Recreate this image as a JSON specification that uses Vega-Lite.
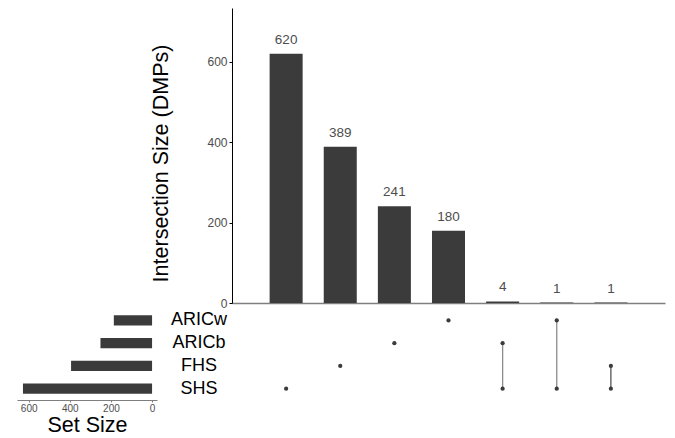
{
  "$schema": "https://vega.github.io/schema/vega-lite/v6.json",
  "padding": {"left": 17, "top": 7, "right": 5, "bottom": 5},
  "bounds": "flush",
  "align": "each",
  "columns": 3,
  "spacing": {"row": 6, "column": 0},
  "config": {"font": "Liberation Sans", "view": {"stroke": null}},
  "datasets": {
    "intersections": [
      {"id": 1, "size": 620},
      {"id": 2, "size": 389},
      {"id": 3, "size": 241},
      {"id": 4, "size": 180},
      {"id": 5, "size": 4},
      {"id": 6, "size": 1},
      {"id": 7, "size": 1}
    ],
    "membership": [
      {"id": 1, "set": "SHS"},
      {"id": 2, "set": "FHS"},
      {"id": 3, "set": "ARICb"},
      {"id": 4, "set": "ARICw"},
      {"id": 5, "set": "ARICb"},
      {"id": 5, "set": "SHS"},
      {"id": 6, "set": "ARICw"},
      {"id": 6, "set": "SHS"},
      {"id": 7, "set": "FHS"},
      {"id": 7, "set": "SHS"}
    ],
    "sets": [
      {"set": "ARICw", "size": 186},
      {"set": "ARICb", "size": 251},
      {"set": "FHS", "size": 394},
      {"set": "SHS", "size": 628}
    ]
  },
  "concat": [
    {
      "width": 140, "height": 10,
      "data": {"values": [{}]},
      "mark": "text",
      "encoding": {"text": {"value": ""}}
    },
    {
      "width": 75, "height": 10,
      "data": {"values": [{}]},
      "mark": "text",
      "encoding": {"text": {"value": ""}}
    },
    {
      "width": 433, "height": 295,
      "data": {"name": "intersections"},
      "encoding": {
        "x": {"field": "id", "type": "ordinal",
              "scale": {"paddingInner": 0.39, "paddingOuter": 0.695},
              "axis": {"title": null, "labels": false, "ticks": false, "domainColor": "#7f7f7f", "domainWidth": 1.5}},
        "y": {"field": "size", "type": "quantitative",
              "scale": {"domain": [0, 734], "nice": false},
              "axis": {"values": [0, 200, 400, 600], "grid": false, "domainColor": "#000000", "tickColor": "#000000",
                       "tickSize": 3, "labelColor": "#4d4d4d", "labelFontSize": 12, "labelPadding": 2,
                       "title": "Intersection Size (DMPs)", "titleFontSize": 21.5, "titleFontWeight": "normal",
                       "titleColor": "#000000", "titlePadding": 34, "titleY": 155}}
      },
      "layer": [
        {"mark": {"type": "bar", "color": "#3b3b3b"}},
        {"mark": {"type": "text", "baseline": "alphabetic", "dy": -10, "fontSize": 13.5, "color": "#4d4d4d"},
         "encoding": {"text": {"field": "size", "type": "quantitative"}}}
      ]
    },
    {
      "width": 140, "height": 91,
      "data": {"name": "sets"},
      "mark": {"type": "bar", "color": "#3b3b3b"},
      "encoding": {
        "y": {"field": "set", "type": "nominal", "sort": ["ARICw", "ARICb", "FHS", "SHS"],
              "scale": {"paddingInner": 0.56, "paddingOuter": 0.28}, "axis": null},
        "x": {"field": "size", "type": "quantitative",
              "scale": {"domain": [-24, 657], "reverse": true, "nice": false, "zero": false},
              "axis": {"values": [0, 200, 400, 600], "grid": false, "domainColor": "#7f7f7f", "tickColor": "#7f7f7f",
                       "tickSize": 2, "labelColor": "#4d4d4d", "labelFontSize": 10, "labelPadding": 1.5,
                       "title": "Set Size", "titleFontSize": 21.5, "titleFontWeight": "normal", "titleColor": "#000000",
                       "titlePadding": 0.5}},
        "x2": {"datum": 0}
      }
    },
    {
      "width": 75, "height": 91,
      "data": {"name": "sets"},
      "mark": {"type": "text", "fontSize": 18, "align": "center", "baseline": "middle", "color": "#000000"},
      "encoding": {
        "y": {"field": "set", "type": "nominal", "sort": ["ARICw", "ARICb", "FHS", "SHS"],
              "scale": {"type": "point", "padding": 0.5}, "axis": null},
        "x": {"datum": 0.56, "type": "quantitative", "scale": {"domain": [0, 1]}, "axis": null},
        "text": {"field": "set", "type": "nominal"}
      }
    },
    {
      "width": 433, "height": 91,
      "data": {"name": "membership"},
      "encoding": {
        "x": {"field": "id", "type": "ordinal", "scale": {"type": "point", "padding": 1}, "axis": null},
        "y": {"field": "set", "type": "nominal", "sort": ["ARICw", "ARICb", "FHS", "SHS"],
              "scale": {"type": "point", "padding": 0.5}, "axis": null}
      },
      "layer": [
        {"mark": {"type": "line", "strokeWidth": 1.3},
         "encoding": {"detail": {"field": "id", "type": "nominal"},
                      "color": {"condition": {"test": "datum.id === 7", "value": "#555555"}, "value": "#8c8c8c"}}},
        {"mark": {"type": "point", "filled": true, "size": 18, "opacity": 1, "color": "#3b3b3b"}}
      ]
    }
  ]
}
